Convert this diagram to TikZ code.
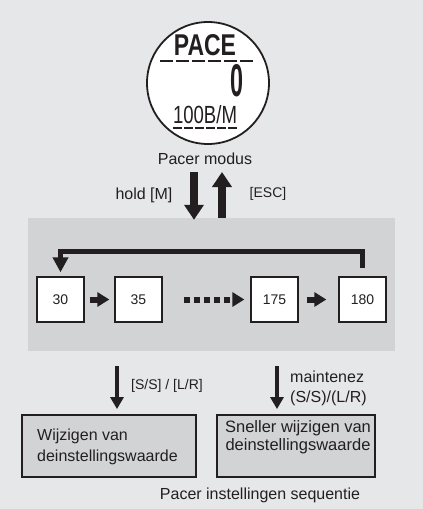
\documentclass[tikz,border=0pt]{standalone}
\usepackage{fontspec}
\setmainfont{Liberation Sans}
\usepackage{graphicx}
\usetikzlibrary{arrows.meta}

\definecolor{pagegray}{HTML}{E6E7E8}
\definecolor{bandgray}{HTML}{D1D3D4}
\definecolor{ink}{HTML}{231F20}

\newcommand{\txtsize}[1]{\fontsize{#1}{#1}\selectfont}

\begin{document}
\begin{tikzpicture}[x=1pt,y=-1pt,line join=miter,text=ink]
        \tikzstyle{valbox}=[draw=ink,fill=white,line width=1.3pt,minimum width=47pt,minimum height=45pt,inner sep=0pt,font=\txtsize{14}]
        \tikzstyle{infobox}=[draw=ink,fill=bandgray,line width=1.8pt,minimum height=62pt,inner sep=0pt]
        \tikzstyle{label}=[inner sep=0pt,font=\txtsize{16}]
        \tikzstyle{bigarrow}=[draw=ink,line width=8pt,-{Triangle[width=19pt,length=15pt]}]
        \tikzstyle{stepline}=[draw=ink,line width=6pt,-{Triangle[width=14pt,length=12pt]}]
        \tikzstyle{backline}=[draw=ink,line width=5pt,-{Triangle[width=15pt,length=15pt]}]
        \tikzstyle{keyarrow}=[draw=ink,line width=4.5pt,-{Triangle[width=13pt,length=12pt]}]

        \useasboundingbox[fill=pagegray] (0,0) rectangle (423,509);

        % watch face
        \node[circle,draw=ink,fill=white,line width=1.8pt,minimum size=122pt,inner sep=0pt](watch) at (208,83){};
        \node[inner sep=0pt](pace) at (205,45){\resizebox{62pt}{21pt}{\bfseries PACE}};
        \draw[ink,line width=2.6pt,dash pattern=on 13pt off 3pt] (160,61) -- (256,61);
        \node[inner sep=0pt](zero) at (236.5,81){\resizebox{13pt}{32pt}{\bfseries 0}};
        \node[inner sep=0pt](bpm) at (205,115){\resizebox{64pt}{18pt}{100B/M}};
        \draw[ink,line width=2pt,dash pattern=on 9pt off 2pt] (173,127.5) -- (237,127.5);
        \node[label](modus) at (205,159){Pacer modus};

        % sequence band
        \node[fill=bandgray,minimum width=367pt,minimum height=133pt,inner sep=0pt](band) at (211.5,284.5){};

        \node[label](hold) at (144,195){hold [M]};
        \node[label,font=\txtsize{14}](esc) at (268,194){[ESC]};
        \coordinate (downx) at (194,172);
        \coordinate (upx) at (222,172);
        \draw[bigarrow,shorten >=-2pt] (downx) -- (downx |- band.north);
        \draw[bigarrow] (upx |- band.north) -- (upx);

        \node[valbox](v30) at (60.5,299.5){30};
        \node[valbox](v35) at (138.5,299.5){35};
        \node[valbox](v175) at (274.5,299.5){175};
        \node[valbox](v180) at (362.5,299.5){180};

        \draw[stepline,shorten <=5pt,shorten >=5pt] (v30) -- (v35);
        \draw[stepline,dash pattern=on 6pt off 4pt,shorten <=21pt,shorten >=6pt] (v35) -- (v175);
        \draw[stepline,shorten <=8pt,shorten >=12pt] (v175) -- (v180);

        \coordinate (loop) at (0,251);
        \draw[backline,shorten <=8pt,shorten >=4pt] (v180.north) -- (v180.north |- loop) -| (v30.north);

        % key presses
        \coordinate (slowx) at (117,366);
        \coordinate (fastx) at (277,366);
        \node[infobox,minimum width=174pt](slow) at (109,446){};
        \node[infobox,minimum width=158pt](fast) at (296,446){};
        \draw[keyarrow,shorten >=5pt] (slowx) -- (slowx |- slow.north);
        \draw[keyarrow,shorten >=5pt] (fastx) -- (fastx |- fast.north);

        \node[label,font=\txtsize{14},anchor=west](sslr) at (131,386){[S/S] / [L/R]};
        \node[label,anchor=north west,align=left,font=\fontsize{16}{20}\selectfont](hold2) at (290,370.5){maintenez\\(S/S)/(L/R)};

        \node[label,anchor=north west,align=left,font=\fontsize{16}{21}\selectfont](slowtxt) at (37,428.5){Wijzigen van\\deinstellingswaarde};
        \node[label,anchor=north,align=center,font=\fontsize{16.5}{18.5}\selectfont](fasttxt) at (298,420){Sneller wijzigen van\\deinstellingswaarde};

        \node[label](title) at (260,495){Pacer instellingen sequentie};

    \end{tikzpicture}
\end{document}
